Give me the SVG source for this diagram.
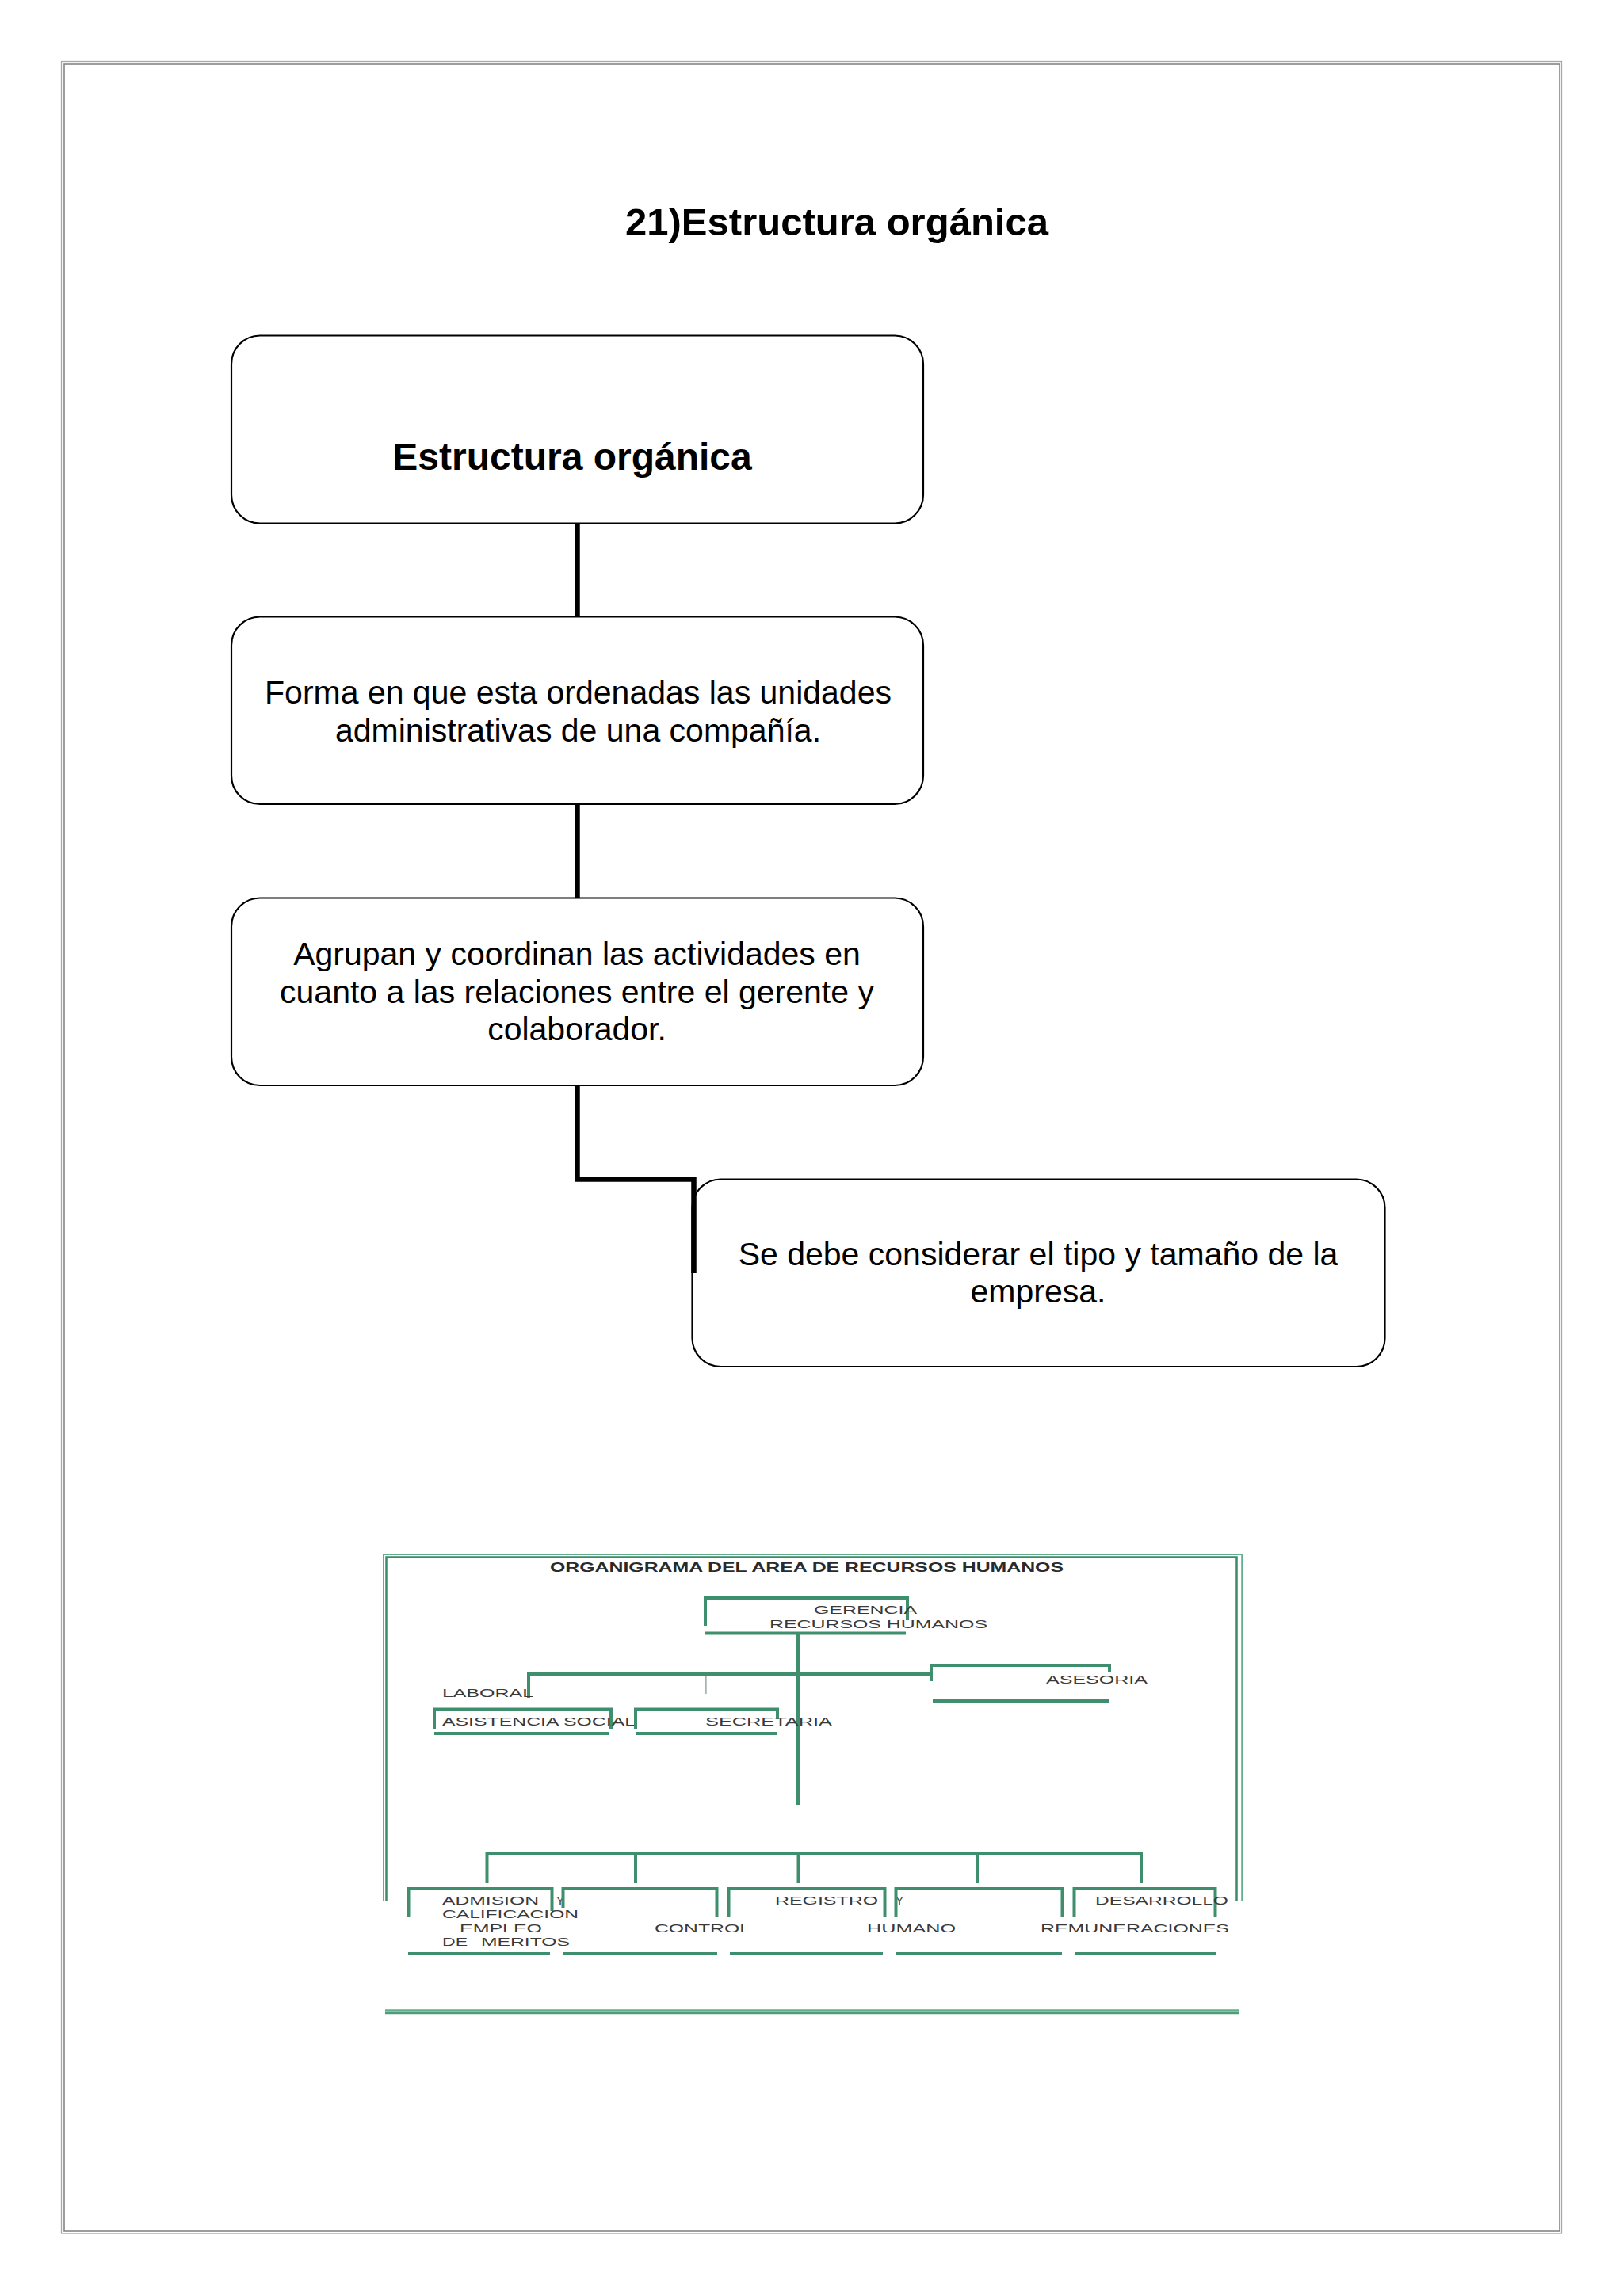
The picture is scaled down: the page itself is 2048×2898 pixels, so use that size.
<svg xmlns="http://www.w3.org/2000/svg" width="2048" height="2898" viewBox="0 0 2048 2898">
<style>
.box{fill:#fff;stroke:#000;stroke-width:2.2}
.t{font-family:"Liberation Sans",Arial,sans-serif;fill:#000;text-anchor:middle;font-size:41px}
.tb{font-family:"Liberation Sans",Arial,sans-serif;fill:#000;text-anchor:middle;font-size:48px;font-weight:bold}
.conn{fill:none;stroke:#000;stroke-width:6.5;stroke-linejoin:miter}
.g{fill:none;stroke:#3f8f6f;stroke-width:4}
.gt{font-family:"Liberation Sans",Arial,sans-serif;fill:#3a3a3a;font-size:15px}
.gtb{font-family:"Liberation Sans",Arial,sans-serif;fill:#2a2a2a;font-size:16px;font-weight:bold}
</style>
<rect width="2048" height="2898" fill="#fff"/>
<g id="page-border">
<rect x="77.5" y="77.5" width="1893" height="2741.5" fill="none" stroke="#a8a8a8" stroke-width="1.3"/>
<rect x="81" y="81" width="1887" height="2735" fill="none" stroke="#858585" stroke-width="1.6"/>
</g>
<text id="title" x="789" y="297" font-family="'Comic Sans MS','Liberation Sans',sans-serif" font-weight="bold" font-size="49" textLength="534" lengthAdjust="spacingAndGlyphs">21)Estructura orgánica</text>

<g id="n1">
<rect class="box" x="292" y="423.5" width="873" height="237" rx="36" ry="36"/>
<text class="tb" x="722" y="593">Estructura orgánica</text>
</g>
<g id="n2">
<rect class="box" x="292" y="778.5" width="873" height="236.5" rx="36" ry="36"/>
<text class="t" x="729.5" y="888">Forma en que esta ordenadas las unidades</text>
<text class="t" x="729.5" y="936">administrativas de una compañía.</text>
</g>
<g id="n3">
<rect class="box" x="292" y="1133.5" width="873" height="236.5" rx="36" ry="36"/>
<text class="t" x="728" y="1218">Agrupan y coordinan las actividades en</text>
<text class="t" x="728" y="1265.5">cuanto a las relaciones entre el gerente y</text>
<text class="t" x="728" y="1313">colaborador.</text>
</g>
<g id="n4">
<rect class="box" x="873.5" y="1488.5" width="874" height="236.5" rx="36" ry="36"/>
<text class="t" x="1310" y="1597">Se debe considerar el tipo y tamaño de la</text>
<text class="t" x="1310" y="1643.5">empresa.</text>
</g>
<g id="connectors">
<path class="conn" d="M728.5 660.5 V778.5"/>
<path class="conn" d="M728.5 1015 V1133.5"/>
<path class="conn" d="M728.5 1370 V1488.5 H875.5 V1607"/>
</g>

<g id="organigrama">
<g id="frame">
<path d="M484 2400 V1962 H1567" fill="none" stroke="#62ad8c" stroke-width="2"/>
<path d="M487.5 2400 V1965.5 H1560.5 V2400" fill="none" stroke="#3b8a68" stroke-width="2.5"/>
<path d="M1567.5 1962 V2400" fill="none" stroke="#62ad8c" stroke-width="2.5"/>
<path d="M486 2537.5 H1564" fill="none" stroke="#62ad8c" stroke-width="2.5"/>
<path d="M486 2541 H1564" fill="none" stroke="#4f9b7a" stroke-width="2.5"/>
</g>
<text class="gtb" x="694" y="1984" textLength="648" lengthAdjust="spacingAndGlyphs">ORGANIGRAMA DEL AREA DE RECURSOS HUMANOS</text>

<g id="gerencia">
<path class="g" d="M890 2052 V2017 H1145 V2045"/>
<path class="g" d="M889 2061.5 H1143"/>
<text class="gt" x="1027" y="2036.5" textLength="130" lengthAdjust="spacingAndGlyphs">GERENCIA</text>
<text class="gt" x="971" y="2055" textLength="275" lengthAdjust="spacingAndGlyphs">RECURSOS HUMANOS</text>
</g>
<g id="chart-lines">
<path class="g" d="M1007 2061 V2278" stroke-width="6"/>
<path class="g" d="M667 2143 V2113 H1176" stroke-width="3.5"/>
<path d="M890.5 2115 V2138" stroke="#a9b5b0" stroke-width="2.5"/>
<path class="g" d="M614.5 2377 V2340 H1440 V2377" stroke-width="4"/>
<path class="g" d="M802 2340 V2377 M1007.5 2340 V2377 M1233 2340 V2377" stroke-width="3"/>
</g>
<g id="asesoria">
<path class="g" d="M1175 2122 V2102 H1400 V2111"/>
<path class="g" d="M1177 2147 H1400"/>
<text class="gt" x="1320" y="2125" textLength="128" lengthAdjust="spacingAndGlyphs">ASESORIA</text>
</g>
<text id="laboral" class="gt" x="558" y="2142" textLength="115" lengthAdjust="spacingAndGlyphs">LABORAL</text>
<g id="asistencia">
<path class="g" d="M548 2182 V2157.5 H771 V2182"/>
<path class="g" d="M548 2188 H769"/>
<text class="gt" x="558" y="2177.5" textLength="244" lengthAdjust="spacingAndGlyphs">ASISTENCIA SOCIAL</text>
</g>
<g id="secretaria">
<path class="g" d="M802 2182 V2157.5 H981 V2170"/>
<path class="g" d="M803 2188 H980"/>
<text class="gt" x="890" y="2177.5" textLength="160" lengthAdjust="spacingAndGlyphs">SECRETARIA</text>
</g>
<g id="admision">
<path class="g" d="M515.5 2420 V2384 H696.5 V2412"/>
<path class="g" d="M515 2466 H694"/>
<text class="gt" x="558" y="2404" textLength="122" lengthAdjust="spacingAndGlyphs">ADMISION</text>
<text class="gt" x="702" y="2404">Y</text>
<text class="gt" x="558" y="2421" textLength="172" lengthAdjust="spacingAndGlyphs">CALIFICACION</text>
<text class="gt" x="580" y="2439" textLength="104" lengthAdjust="spacingAndGlyphs">EMPLEO</text>
<text class="gt" x="558" y="2456" textLength="32" lengthAdjust="spacingAndGlyphs">DE</text>
<text class="gt" x="607" y="2456" textLength="112" lengthAdjust="spacingAndGlyphs">MERITOS</text>
</g>
<g id="control">
<path class="g" d="M710.5 2408 V2384 H904.5 V2420"/>
<path class="g" d="M711 2466 H905"/>
<text class="gt" x="826" y="2439" textLength="121" lengthAdjust="spacingAndGlyphs">CONTROL</text>
</g>
<g id="registro">
<path class="g" d="M919.5 2420 V2384 H1116.5 V2420"/>
<path class="g" d="M921 2466 H1114"/>
<text class="gt" x="978" y="2404" textLength="130" lengthAdjust="spacingAndGlyphs">REGISTRO</text>
<text class="gt" x="1130" y="2404">Y</text>
</g>
<g id="humano">
<path class="g" d="M1130.5 2420 V2384 H1340.5 V2420"/>
<path class="g" d="M1131 2466 H1340"/>
<text class="gt" x="1094" y="2439" textLength="112" lengthAdjust="spacingAndGlyphs">HUMANO</text>
</g>
<g id="desarrollo">
<path class="g" d="M1355.5 2420 V2384 H1533.5 V2420"/>
<path class="g" d="M1357 2466 H1535"/>
<text class="gt" x="1382" y="2404" textLength="168" lengthAdjust="spacingAndGlyphs">DESARROLLO</text>
<text class="gt" x="1313" y="2439" textLength="238" lengthAdjust="spacingAndGlyphs">REMUNERACIONES</text>
</g>
</g>
</svg>
